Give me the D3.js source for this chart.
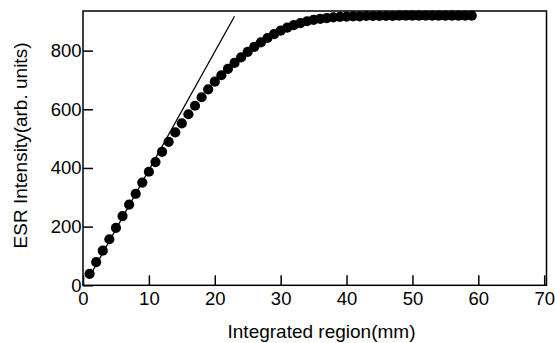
<!DOCTYPE html>
<html>
<head>
<meta charset="utf-8">
<script src="https://cdn.jsdelivr.net/npm/d3@7"></script>
<style>
  html, body { margin: 0; padding: 0; background: #fff; }
  svg { display: block; }
  text { font-family: "Liberation Sans", Arial, sans-serif; fill: #000; }
</style>
</head>
<body>
<svg id="chart" width="555" height="343"></svg>
<script>
// Integrated region (mm) and the measured ESR intensity
const regionMM = [1, 2, 3, 4, 5, 6, 7, 8, 9, 10,
  11, 12, 13, 14, 15, 16, 17, 18, 19, 20,
  21, 22, 23, 24, 25, 26, 27, 28, 29, 30,
  31, 32, 33, 34, 35, 36, 37, 38, 39, 40,
  41, 42, 43, 44, 45, 46, 47, 48, 49, 50,
  51, 52, 53, 54, 55, 56, 57, 58, 59];
const esrIntensity = [39, 79, 118, 157, 196, 236, 275, 312, 350, 387,
  420, 455, 489, 521, 552, 583, 612, 641, 668, 694,
  716, 738, 758, 777, 796, 813, 828, 843, 856, 868,
  878, 887, 894, 900, 905, 908, 911, 913, 915, 916,
  917, 917, 918, 918, 918, 918, 918, 919, 919, 919,
  919, 919, 919, 919, 919, 919, 919, 919, 919];

// Linear fit drawn over the low-region points
const fitX = [1, 23.0];
const fitY = [30, 917];

const xTicks = [0, 10, 20, 30, 40, 50, 60, 70];
const yTicks = [0, 200, 400, 600, 800];

const svg = d3.select("#chart");
const plotLeft = 83, plotRight = 546.5, plotTop = 11, plotBottom = 285.3;

const x = d3.scaleLinear().domain([0, 70.35]).range([plotLeft, plotRight]);
const y = d3.scaleLinear().domain([0, 935]).range([plotBottom, plotTop]);

const fontSize = 18.5;

// x axis with inward ticks
const gx = svg.append("g")
  .attr("transform", `translate(0,${plotBottom})`)
  .call(d3.axisBottom(x).tickValues(xTicks).tickFormat(d3.format("d"))
    .tickSizeInner(-10).tickSizeOuter(0).tickPadding(6.5));
gx.select(".domain").remove();
gx.selectAll(".tick line").attr("stroke", "#000").attr("stroke-width", 1.5);
gx.selectAll(".tick text").attr("font-size", fontSize)
  .attr("font-family", "Liberation Sans, Arial, sans-serif");

// y axis with inward ticks
const gy = svg.append("g")
  .attr("transform", `translate(${plotLeft},0)`)
  .call(d3.axisLeft(y).tickValues(yTicks).tickFormat(d3.format("d"))
    .tickSizeInner(-10).tickSizeOuter(0).tickPadding(1.5));
gy.select(".domain").remove();
gy.selectAll(".tick line").attr("stroke", "#000").attr("stroke-width", 1.5);
gy.selectAll(".tick text").attr("font-size", fontSize)
  .attr("font-family", "Liberation Sans, Arial, sans-serif");

// plot frame
svg.append("rect")
  .attr("x", plotLeft).attr("y", plotTop)
  .attr("width", plotRight - plotLeft).attr("height", plotBottom - plotTop)
  .attr("fill", "none").attr("stroke", "#000").attr("stroke-width", 1.5);

// fit line
svg.append("line")
  .attr("x1", x(fitX[0])).attr("y1", y(fitY[0]))
  .attr("x2", x(fitX[1])).attr("y2", y(fitY[1]))
  .attr("stroke", "#000").attr("stroke-width", 1.3);

// data points
svg.append("g").selectAll("circle")
  .data(regionMM.map((d, i) => [d, esrIntensity[i]]))
  .join("circle")
  .attr("cx", d => x(d[0]))
  .attr("cy", d => y(d[1]))
  .attr("r", 5.1)
  .attr("fill", "#000");

// axis titles
svg.append("text")
  .attr("x", 321.5).attr("y", 338)
  .attr("text-anchor", "middle")
  .attr("font-size", 19)
  .text("Integrated region(mm)");

svg.append("text")
  .attr("transform", "translate(27,145.5) rotate(-90)")
  .attr("text-anchor", "middle")
  .attr("font-size", 19)
  .text("ESR Intensity(arb. units)");
</script>
</body>
</html>
